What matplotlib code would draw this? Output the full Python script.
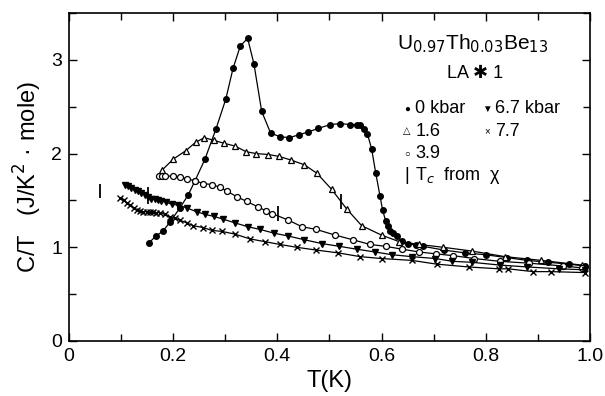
import matplotlib
matplotlib.use("Agg")
import matplotlib.pyplot as plt
from matplotlib.ticker import MultipleLocator

plt.rcParams['font.family'] = ['Liberation Sans', 'DejaVu Sans']

# 0 kbar (filled circles)
T0 = [0.154, 0.167, 0.180, 0.194, 0.213, 0.229, 0.242, 0.261, 0.282, 0.301, 0.315, 0.329,
      0.343, 0.355, 0.370, 0.387, 0.405, 0.423, 0.441, 0.459, 0.479, 0.502, 0.521, 0.540,
      0.552, 0.559, 0.567, 0.573, 0.581, 0.589, 0.597, 0.602, 0.608, 0.612, 0.617, 0.623,
      0.629, 0.639, 0.651, 0.667, 0.680, 0.720, 0.760, 0.800, 0.840, 0.880, 0.920, 0.960, 0.990]
C0 = [1.05, 1.12, 1.17, 1.27, 1.42, 1.56, 1.71, 1.94, 2.26, 2.58, 2.91, 3.15,
      3.23, 2.96, 2.45, 2.22, 2.18, 2.17, 2.20, 2.23, 2.27, 2.31, 2.32, 2.31,
      2.31, 2.30, 2.26, 2.21, 2.05, 1.79, 1.55, 1.40, 1.28, 1.23, 1.17, 1.15,
      1.12, 1.07, 1.04, 1.02, 1.01, 0.97, 0.94, 0.92, 0.89, 0.86, 0.84, 0.82, 0.80]

# 1.6 kbar (open triangles)
T16 = [0.178, 0.200, 0.224, 0.243, 0.260, 0.279, 0.298, 0.319, 0.340, 0.360, 0.383, 0.403,
       0.427, 0.452, 0.476, 0.504, 0.533, 0.562, 0.600, 0.634, 0.672, 0.718, 0.773, 0.837,
       0.907, 0.984]
C16 = [1.82, 1.94, 2.03, 2.12, 2.17, 2.14, 2.11, 2.08, 2.02, 2.00, 1.99, 1.97,
       1.93, 1.88, 1.79, 1.62, 1.41, 1.23, 1.13, 1.06, 1.03, 1.00, 0.96, 0.90,
       0.86, 0.81]

# 3.9 kbar (open circles)
T39 = [0.173, 0.179, 0.185, 0.200, 0.213, 0.226, 0.242, 0.258, 0.274, 0.290, 0.303, 0.322,
       0.341, 0.363, 0.378, 0.390, 0.421, 0.447, 0.475, 0.511, 0.545, 0.578, 0.608, 0.639,
       0.672, 0.704, 0.738, 0.778, 0.827, 0.884, 0.949, 0.985]
C39 = [1.76, 1.76, 1.76, 1.76, 1.75, 1.73, 1.71, 1.68, 1.67, 1.64, 1.60, 1.54,
       1.49, 1.43, 1.39, 1.36, 1.29, 1.22, 1.19, 1.13, 1.08, 1.03, 1.01, 0.98,
       0.95, 0.93, 0.91, 0.88, 0.85, 0.83, 0.80, 0.78]

# 6.7 kbar (filled down triangles)
T67 = [0.107, 0.114, 0.120, 0.127, 0.133, 0.139, 0.146, 0.152, 0.158, 0.165, 0.171, 0.177,
       0.187, 0.197, 0.210, 0.226, 0.245, 0.262, 0.278, 0.296, 0.319, 0.343, 0.367, 0.394,
       0.421, 0.452, 0.485, 0.519, 0.552, 0.587, 0.621, 0.658, 0.703, 0.736, 0.773, 0.827,
       0.880, 0.940, 0.990]
C67 = [1.66, 1.65, 1.63, 1.61, 1.60, 1.58, 1.56, 1.54, 1.52, 1.51, 1.50, 1.49,
       1.48, 1.46, 1.45, 1.42, 1.38, 1.35, 1.33, 1.30, 1.26, 1.22, 1.19, 1.15,
       1.12, 1.08, 1.04, 1.01, 0.98, 0.95, 0.92, 0.90, 0.88, 0.85, 0.84, 0.81,
       0.79, 0.77, 0.76]

# 7.7 kbar (crosses)
T77 = [0.098, 0.105, 0.111, 0.117, 0.124, 0.130, 0.137, 0.143, 0.149, 0.156, 0.162, 0.168,
       0.175, 0.184, 0.194, 0.203, 0.213, 0.226, 0.239, 0.258, 0.274, 0.293, 0.319, 0.347,
       0.376, 0.405, 0.437, 0.475, 0.517, 0.559, 0.600, 0.658, 0.706, 0.767, 0.825, 0.843,
       0.891, 0.926, 0.990]
C77 = [1.53, 1.50, 1.47, 1.45, 1.42, 1.40, 1.39, 1.38, 1.38, 1.38, 1.38, 1.37,
       1.37, 1.35, 1.32, 1.31, 1.29, 1.26, 1.23, 1.21, 1.18, 1.17, 1.14, 1.09,
       1.06, 1.03, 1.00, 0.97, 0.94, 0.90, 0.88, 0.86, 0.82, 0.79, 0.77, 0.77,
       0.74, 0.74, 0.73]

# Tc from chi (vertical bars)
tc_T = [0.060, 0.152, 0.402, 0.523]
tc_lo = [1.53, 1.46, 1.28, 1.41]
tc_hi = [1.68, 1.64, 1.44, 1.57]

# Legend block labels
leg_syms = ['●', '▼', '△', '×', '○', '|']
leg_labels = ['0 kbar', '6.7 kbar', '1.6', '7.7', '3.9', 'T$_c$  from  χ']

fig = plt.figure(figsize=(6.05, 3.96), dpi=100)
ax = fig.add_axes([0.114, 0.139, 0.861, 0.828])

lw = 0.9
k = 'black'
ax.plot(T0, C0, '-', color=k, lw=lw, marker='o', ms=4.0, mfc=k, mec=k)
ax.plot(T16, C16, '-', color=k, lw=lw, marker='^', ms=4.8, mfc='white', mec=k, mew=0.9)
ax.plot(T39, C39, '-', color=k, lw=lw, marker='o', ms=4.3, mfc='white', mec=k, mew=0.9)
ax.plot(T67, C67, '-', color=k, lw=lw, marker='v', ms=4.6, mfc=k, mec=k)
ax.plot(T77, C77, '-', color=k, lw=lw, marker='x', ms=3.8, mec=k, mew=1.0)
ax.vlines(tc_T, tc_lo, tc_hi, colors=k, lw=1.3)

ax.set_xlim(0, 1.0)
ax.set_ylim(0, 3.5)
ax.xaxis.set_minor_locator(MultipleLocator(0.1))
ax.yaxis.set_minor_locator(MultipleLocator(0.5))
ax.set_xticks([0, 0.2, 0.4, 0.6, 0.8, 1.0])
ax.set_xticklabels(['0', '0.2', '0.4', '0.6', '0.8', '1.0'])
ax.set_yticks([0, 1, 2, 3])
ax.set_yticklabels(['0', '1', '2', '3'])
ax.tick_params(which='both', direction='in', top=True, right=True, width=1.0,
               labelsize=14, pad=5)
ax.tick_params(which='major', length=6)
ax.tick_params(which='minor', length=5)
for s in ax.spines.values():
    s.set_linewidth(1.2)

ax.set_xlabel('T(K)', fontsize=17, labelpad=4)
ax.set_ylabel('C/T   (J/K$^2$ · mole)', fontsize=17, labelpad=5)

# Annotation / legend block
ax.text(0.775, 3.17, 'U$_{0.97}$Th$_{0.03}$Be$_{13}$', fontsize=15, ha='center', va='center')
ax.text(0.78, 2.86, 'LA ✱ 1', fontsize=13, ha='center', va='center')
sym_x = [0.649, 0.802, 0.649, 0.802, 0.649, 0.649]
row_y = [2.48, 2.48, 2.24, 2.24, 2.00, 1.77]
for sym, lab, sx, ry in zip(leg_syms, leg_labels, sym_x, row_y):
    fs = 13 if sym == '|' else 7
    ax.text(sx, ry, sym, fontsize=fs, ha='center', va='center')
    ax.text(sx + 0.016, ry, lab, fontsize=13, ha='left', va='center')

fig.savefig('out.png', dpi=100)
